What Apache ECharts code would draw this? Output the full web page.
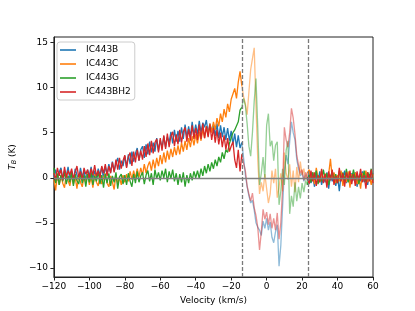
<!DOCTYPE html>
<html>
<head>
<meta charset="utf-8">
<script src="https://cdn.jsdelivr.net/npm/echarts@6/dist/echarts.min.js"></script>
<style>html,body{margin:0;padding:0;background:#fff}#c{width:415px;height:311px}</style>
</head>
<body>
<div id="c"></div>
<script>
// Velocity grid (km/s): first channel and channel width
const velocityStart = -120;
const velocityStep = 1;
// Dashed reference velocities (km/s)
const dashedVelocities = [-13.7, 23.4];
const xTicks = [-120, -100, -80, -60, -40, -20, 0, 20, 40, 60];
const yTicks = [-10, -5, 0, 5, 10, 15];
const names = ['IC443B', 'IC443C', 'IC443G', 'IC443BH2'];

// Brightness temperature T_B (K), one value per velocity channel -120..60
const IC443B = [
  0.1, 0.9, -0.3, 0.6, 1.1, -0.1, 0.8, 0.2, 1.2, -0.2,
  0.7, -0.4, 1.0, 0.3, -0.2, 1.1, 0.0, 0.8, -0.3, 0.9,
  0.2, 1.2, -0.1, 0.8, 0.0, 1.0, 0.3, 1.2, -0.1, 1.3,
  0.4, 1.5, 0.6, 1.8, 0.7, 1.6, 2.2, 0.9, 1.9, 1.3,
  2.4, 1.2, 2.6, 1.5, 2.9, 1.8, 2.7, 3.3, 1.9, 3.1,
  3.5, 2.2, 3.7, 2.6, 4.0, 2.8, 3.9, 2.9, 4.4, 3.0,
  4.2, 3.3, 4.6, 3.4, 4.5, 3.9, 5.1, 3.8, 5.3, 4.0,
  5.2, 4.0, 5.6, 4.3, 5.9, 4.5, 5.7, 4.6, 6.2, 4.7,
  5.9, 4.8, 6.3, 5.0, 6.1, 5.6, 6.4, 4.9, 6.0, 5.2,
  5.9, 4.6, 6.0, 4.4, 5.8, 4.5, 5.6, 4.2, 5.5, 4.1,
  5.2, 3.7, 4.9, 3.4, 4.7, 3.3, 3.9,
  2.2, 0.3, -1.0, -2.0, -2.8, -2.5, -3.6, -5.0, -5.5, -5.8,
  -6.4, -4.8, -5.6, -4.5, -5.8, -4.9, -6.6, -7.2, -6.0, -5.2,
  -9.8, -7.5, -3.2, 0.8, 2.5, 1.5, 4.0, 6.2, 5.0, 4.2,
  2.0, 1.0, 0.2, 0.6, -0.4, 0.3, -0.3,
  0.5, -0.6, 0.2, -1.0, 0.4, -0.3, 0.7, -0.8, 0.1, -0.5,
  0.6, -1.2, 0.3, -0.4, 0.5, -0.9, 0.2, -1.5, 0.4, -0.2,
  0.8, -0.6, 0.1, -0.7, 0.5, -0.3, 0.6, -1.0, 0.2, -0.4,
  0.7, -0.5, 0.3, -0.8, 0.4, -0.2, 0.5
];
const IC443C = [
  -0.2, -1.4, 0.4, -0.8, 0.3, -0.6, -1.1, 0.5, -0.3, -0.9,
  0.3, -0.7, 0.1, -1.2, 0.4, -0.5, -1.0, 0.2, -0.6, 0.5,
  -0.8, 0.1, -1.1, 0.4, -0.5, -0.9, 0.3, -0.7, 0.0, 0.5,
  -0.6, -1.0, 0.2, -0.5, -1.3, 0.4, -0.7, 0.1, -0.8, 0.3,
  -0.5, 0.4, -0.4, 0.7, -0.2, 0.8, -0.1, 1.0, 0.1, 1.1,
  0.3, 1.5, 0.5, 1.3, 1.8, 0.8, 2.0, 1.0, 2.2, 1.3,
  2.5, 1.5, 2.8, 1.7, 3.0, 2.0, 3.2, 2.3, 3.4, 2.5,
  3.6, 2.6, 3.9, 2.9, 4.1, 3.1, 4.4, 3.4, 4.6, 3.6,
  4.8, 3.8, 5.1, 4.1, 5.4, 4.4, 5.7, 4.7, 6.0, 5.0,
  6.2, 5.3, 6.6, 5.7, 7.1, 6.2, 7.6, 6.7, 8.2, 7.3,
  8.7, 8.5, 9.9, 8.8, 10.6, 11.8, 10.2,
  9.0, 8.2, 7.0, 9.5, 12.0, 13.2, 14.4, 8.0, 2.0, -1.8,
  -0.5, -1.5, 0.4, -1.2, -2.8, -1.8, 0.8, -0.6, 1.0, -2.2,
  -1.0, 0.5, -1.5, 2.8, 0.5, -0.2, 1.5, -1.0, 0.8, -1.6,
  1.2, -0.5, 1.8, 0.3, 1.0, -0.2, 0.5,
  0.9, -0.3, 0.6, -0.7, 1.1, 0.0, -0.5, 0.7, -0.2, 0.5,
  -0.8, 0.4, 2.1, -0.1, 0.6, -0.6, 0.3, -0.4, 0.8, -0.9,
  0.2, -0.5, 0.7, -1.1, 0.4, -0.2, 0.6, -0.7, 0.1, -1.2,
  0.5, -0.3, 0.8, -0.5, 0.2, -0.8, 0.4
];
const IC443G = [
  1.1, -0.6, 0.5, -0.8, 0.3, -0.4, 0.7, -0.7, 0.2, -0.5,
  0.6, -0.9, 0.4, -0.3, -0.7, 0.5, -0.6, 0.3, -1.0, 0.4,
  -0.5, 0.6, -0.8, 0.2, -0.4, 0.7, -0.7, 0.3, -1.1, 0.4,
  -0.6, 0.5, -0.9, 0.2, -0.5, 0.6, -1.2, 0.1, 0.4, -0.7,
  0.3, -0.8, 0.5, -0.4, -1.0, 0.4, -0.6, 0.7, -0.5, 0.2,
  0.6, -0.7, 0.3, 0.8, -0.4, 0.5, -0.8, 0.9, -0.1, 0.6,
  -0.3, 0.8, 0.0, 1.0, -0.5, 0.7, -0.1, 0.9, -0.4, 0.5,
  -0.8, 0.4, -0.5, 0.6, -1.0, 0.3, -0.6, 0.5, -0.3, 0.7,
  0.0, 0.8, -0.1, 1.0, 0.2, 1.3, 0.5, 1.5, 0.7, 1.7,
  1.0, 2.0, 1.3, 2.3, 1.7, 2.8, 2.1, 3.1, 2.8, 3.8,
  4.0, 5.0, 5.3, 5.4, 6.2, 7.5, 7.8,
  8.8, 8.0, 6.0, 3.5, 2.4, 5.0, 8.5, 11.0, 5.5, -0.8,
  0.5, 2.3, 0.0, 5.8, 7.1, 3.5, 4.1, 1.9, 3.6, 4.0,
  -3.0, -1.5, 1.0, -0.8, 3.0, 4.1, -4.0, -2.0, -3.2, -0.5,
  -2.6, -1.0, -2.3, -0.6, -1.6, -0.3, -0.8,
  0.3, -0.5, 0.6, -0.2, 0.8, -0.7, 0.2, -0.4, 0.9, -0.1,
  0.5, -0.8, 0.1, 0.7, -0.3, 0.4, -0.6, 0.8, -0.2, 0.6,
  -0.4, 1.0, -0.5, 0.3, -0.1, 0.9, -0.3, 0.5, -0.7, 0.4,
  -0.2, 0.8, -0.5, 0.6, 0.1, 1.0, -0.3
];
const IC443BH2 = [
  0.5, -0.2, 1.1, 0.2, 0.9, -0.3, 1.2, 0.0, 0.8, 0.3,
  1.0, -0.1, 0.6, 1.3, 0.1, 0.7, -0.2, 1.1, 0.4, 0.9,
  -0.1, 1.0, 0.3, 1.4, 0.2, 0.8, 0.0, 1.3, 0.5, 1.5,
  0.2, 1.3, 0.5, 1.7, 0.6, 2.0, 0.9, 2.2, 1.0, 1.9,
  2.5, 1.1, 2.3, 2.8, 1.3, 2.9, 1.7, 3.1, 1.9, 3.0,
  2.0, 3.5, 2.3, 3.8, 2.5, 4.1, 2.7, 3.9, 4.3, 2.8,
  4.4, 3.0, 4.7, 3.2, 4.9, 3.4, 4.6, 5.1, 3.5, 4.8,
  3.7, 5.3, 3.9, 5.1, 5.6, 4.0, 5.4, 4.1, 5.8, 4.3,
  5.5, 4.2, 5.9, 4.3, 6.0, 4.4, 5.7, 4.5, 5.9, 4.2,
  5.5, 3.9, 5.3, 3.7, 5.0, 3.4, 4.7, 3.1, 4.4, 2.9,
  3.5, 4.0, 2.0, 1.1, 3.1, 0.7, 2.6,
  1.6, 0.8, -0.9, -1.8, -2.6, -1.7, -3.3, -4.2, -5.5, -8.0,
  -6.0, -3.5, -4.6, -3.8, -5.2, -4.0, -5.6, -4.5, -5.8, -3.9,
  -6.8, -5.0, -1.2, 5.6, 4.2, 3.4, 5.0, 7.7, 6.6, 4.8,
  2.5, 1.4, 0.5, 0.9, -0.3, 0.6, 0.1,
  -0.7, 0.8, -0.4, 0.6, -0.9, 0.3, -0.5, 1.0, -0.6, 0.4,
  -1.1, 0.7, -0.3, 0.9, -0.8, 0.2, -0.6, 1.1, -0.4, 0.5,
  -1.0, 0.6, -0.2, 0.8, -0.7, 0.4, -0.9, 0.7, -0.3, 1.0,
  -0.5, 0.3, -1.2, 0.6, -0.4, 0.9, -0.6
];

const colors = ['#1f77b4', '#ff7f0e', '#2ca02c', '#d62728'];
const spectra = [IC443B, IC443C, IC443G, IC443BH2];
const FONT = 'DejaVu Sans';
const minus = v => String(v).replace('-', '\u2212');

const series = [];
spectra.forEach((vals, k) => {
  const pts = vals.map((t, i) => [velocityStart + i * velocityStep, t]);
  const lo = Math.ceil(dashedVelocities[0]) - 1, hi = Math.floor(dashedVelocities[1]);
  const left = pts.filter(p => p[0] <= lo);
  const mid = pts.filter(p => p[0] >= lo && p[0] <= hi);
  const right = pts.filter(p => p[0] >= hi);
  const base = {
    name: names[k], type: 'line', symbol: 'none', showSymbol: false,
    animation: false, silent: true, color: colors[k],
    lineStyle: { width: 1.3, color: colors[k] }
  };
  series.push(Object.assign({}, base, { data: left }));
  series.push(Object.assign({}, base, { data: mid, lineStyle: { width: 1.3, color: colors[k], opacity: 0.5 } }));
  series.push(Object.assign({}, base, { data: right }));
});
series.push({
  name: 'refs', type: 'line', data: [], z: 5, silent: true, animation: false,
  markLine: {
    symbol: 'none', silent: true, animation: false, label: { show: false },
    data: [
      { yAxis: 0, lineStyle: { color: '#808080', width: 1.3, type: 'solid' } },
      { xAxis: dashedVelocities[0], lineStyle: { color: '#7a7a7a', width: 1.3, type: [4, 2] } },
      { xAxis: dashedVelocities[1], lineStyle: { color: '#7a7a7a', width: 1.3, type: [4, 2] } }
    ]
  }
});

const chart = echarts.init(document.getElementById('c'), null, { renderer: 'canvas' });
chart.setOption({
  backgroundColor: '#fff',
  animation: false,
  textStyle: { fontFamily: FONT },
  grid: { left: 52, right: 42, top: 37, bottom: 34, show: true, borderColor: '#222', borderWidth: 1, backgroundColor: 'transparent' },
  legend: {
    data: names, orient: 'vertical', left: 57, top: 42,
    icon: 'rect', itemWidth: 16, itemHeight: 1.6, itemGap: 4,
    padding: [3, 4, 3, 3],
    backgroundColor: 'rgba(255,255,255,0.8)', borderColor: '#cccccc', borderWidth: 1, borderRadius: 3,
    textStyle: { fontFamily: FONT, fontSize: 9, color: '#000', lineHeight: 10, padding: [0, 0, 0, 5] },
    z: 10, selectedMode: false
  },
  xAxis: {
    type: 'value', min: xTicks[0], max: xTicks[xTicks.length - 1], interval: 20,
    name: 'Velocity (km/s)', nameLocation: 'middle', nameGap: 17,
    nameTextStyle: { fontFamily: FONT, fontSize: 9, color: '#000' },
    axisLine: { show: true, onZero: false, lineStyle: { color: '#222', width: 1 } },
    axisTick: { show: true, inside: false, length: 3.5, lineStyle: { color: '#222' } },
    axisLabel: { fontFamily: FONT, fontSize: 9, color: '#000', margin: 5, formatter: minus },
    splitLine: { show: false }
  },
  yAxis: {
    type: 'value', min: -11, max: 15.6,
    name: '{i|T}{s|B} (K)', nameLocation: 'middle', nameGap: 28, nameRotate: 90,
    nameTextStyle: {
      fontFamily: FONT, fontSize: 9, color: '#000',
      rich: {
        i: { fontFamily: FONT, fontSize: 9, fontStyle: 'italic', color: '#000' },
        s: { fontFamily: FONT, fontSize: 6.5, fontStyle: 'italic', color: '#000', padding: [4, 0, 0, 0] }
      }
    },
    axisLine: { show: true, onZero: false, lineStyle: { color: '#222', width: 1 } },
    axisTick: { show: true, inside: false, length: 3.5, customValues: yTicks, lineStyle: { color: '#222' } },
    axisLabel: { fontFamily: FONT, fontSize: 9, color: '#000', margin: 6, customValues: yTicks, formatter: minus },
    splitLine: { show: false }
  },
  series: series
});
</script>
</body>
</html>
